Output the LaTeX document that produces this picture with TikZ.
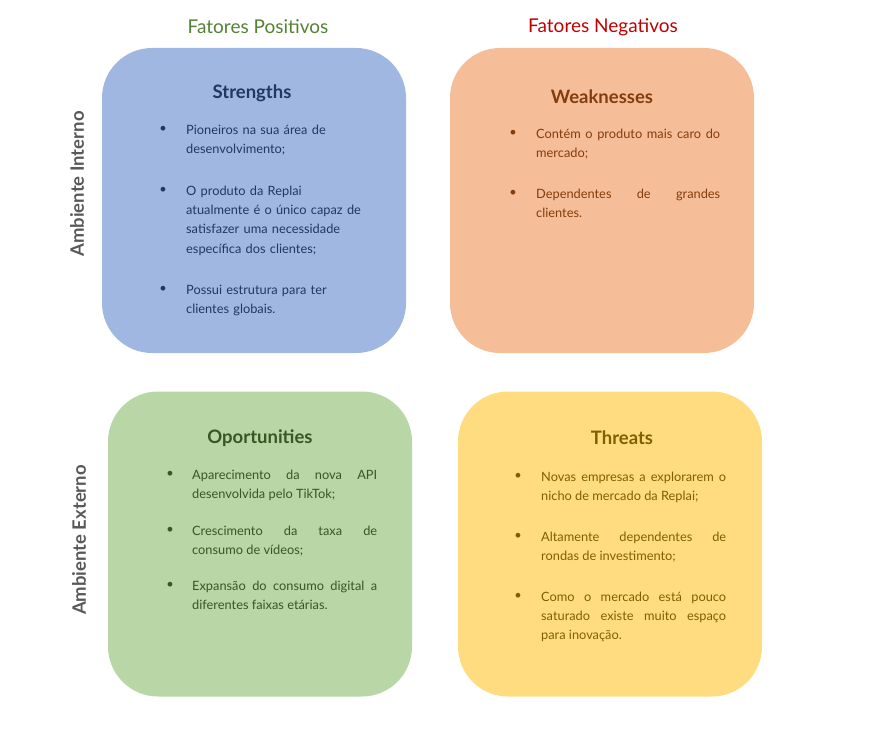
\documentclass[tikz,border=0pt]{standalone}
\usepackage{fontspec}
\usepackage{graphicx}
\setmainfont{Lato}
\definecolor{sfill}{HTML}{A0B8E1}
\definecolor{stext}{HTML}{1F3864}
\definecolor{wfill}{HTML}{F6BE98}
\definecolor{wtext}{HTML}{843C0C}
\definecolor{ofill}{HTML}{B8D6A6}
\definecolor{otext}{HTML}{385723}
\definecolor{tfill}{HTML}{FFDC80}
\definecolor{ttext}{HTML}{7F6000}
\definecolor{posc}{HTML}{548235}
\definecolor{negc}{HTML}{C00000}
\definecolor{sidec}{HTML}{595959}
\begin{document}
\begin{tikzpicture}[x=1pt,y=-1pt,
  quad/.style={rounded corners=50pt, inner sep=0pt, minimum width=304pt, minimum height=305pt},
  qtitle/.style={inner sep=0pt, font=\fontsize{18.5}{22}\selectfont\bfseries},
  heading/.style={inner sep=0pt, font=\fontsize{19}{23}\selectfont},
  sidelabel/.style={inner sep=0pt, rotate=90, text=sidec, font=\fontsize{18.5}{22}\selectfont\bfseries},
  bul/.style={inner sep=0pt, font=\fontsize{12.8}{19.3}\selectfont},
  itm/.style={inner sep=0pt, anchor=north west, font=\fontsize{12.8}{19.3}\selectfont}
]
\useasboundingbox (0,0) rectangle (878,738);
% headings
\node[heading, text=posc] (hp) at (258,27) {Fatores Positivos};
\node[heading, text=negc] (hn) at (603,27) {Fatores Negativos};
\node[sidelabel] (ai) at (77,184) {Ambiente Interno};
\node[sidelabel] (ae) at (79,540) {Ambiente Externo};
% boxes
\node[quad, fill=sfill] (S) at (254,200.5) {};
\node[quad, fill=wfill] (W) at (602,200.5) {};
\node[quad, fill=ofill] (O) at (260,544) {};
\node[quad, fill=tfill] (T) at (610,544) {};
% Strengths
\node[qtitle, text=stext] (st) at (252,93) {Strengths};
\begin{scope}[every node/.append style={text=stext}]
\node[bul] (sb1) at (163,129) {\textbullet};
\node[itm, text width=185pt, align=left] (s1) at (186,120.5) {\strut Pioneiros na sua área de\newline desenvolvimento;};
\node[bul] (sb2) at (163,190) {\textbullet};
\node[itm, text width=185pt, align=left] (s2) at (186,181.5) {\strut O produto da Replai\newline atualmente é o único capaz de\newline satisfazer uma necessidade\newline específica dos clientes;};
\node[bul] (sb3) at (163,289) {\textbullet};
\node[itm, text width=185pt, align=left] (s3) at (186,280.5) {\strut Possui estrutura para ter\newline clientes globais.};
\end{scope}
% Weaknesses
\node[qtitle, text=wtext] (wt) at (602,97) {Weaknesses};
\begin{scope}[every node/.append style={text=wtext}]
\node[bul] (wb1) at (513,133) {\textbullet};
\node[itm, text width=184pt, align=justify] (w1) at (536,124.5) {\strut Contém o produto mais caro do\linebreak mercado;};
\node[bul] (wb2) at (513,193) {\textbullet};
\node[itm, text width=184pt, align=justify] (w2) at (536,184.5) {\strut Dependentes de grandes\linebreak clientes.};
\end{scope}
% Oportunities
\node[qtitle, text=otext] (ot) at (260,438) {Oportunities};
\begin{scope}[every node/.append style={text=otext}]
\node[bul] (ob1) at (170,474) {\textbullet};
\node[itm, text width=185pt, align=justify] (o1) at (192,465.5) {\strut Aparecimento da nova API\linebreak desenvolvida pelo TikTok;};
\node[bul] (ob2) at (170,530) {\textbullet};
\node[itm, text width=185pt, align=justify] (o2) at (192,521.5) {\strut Crescimento da taxa de\linebreak consumo de vídeos;};
\node[bul] (ob3) at (170,585) {\textbullet};
\node[itm, text width=185pt, align=justify] (o3) at (192,576.5) {\strut Expansão do consumo digital a\linebreak diferentes faixas etárias.};
\end{scope}
% Threats
\node[qtitle, text=ttext] (tt) at (622,438) {Threats};
\begin{scope}[every node/.append style={text=ttext}]
\node[bul] (tb1) at (518,476) {\textbullet};
\node[itm, text width=185pt, align=justify] (t1) at (541,467.5) {\strut Novas empresas a explorarem o\linebreak nicho de mercado da Replai;};
\node[bul] (tb2) at (518,536) {\textbullet};
\node[itm, text width=185pt, align=justify] (t2) at (541,527.5) {\strut Altamente dependentes de\linebreak rondas de investimento;};
\node[bul] (tb3) at (518,596) {\textbullet};
\node[itm, text width=185pt, align=justify] (t3) at (541,587.5) {\strut Como o mercado está pouco\linebreak saturado existe muito espaço\linebreak para inovação.};
\end{scope}
\end{tikzpicture}
\end{document}
